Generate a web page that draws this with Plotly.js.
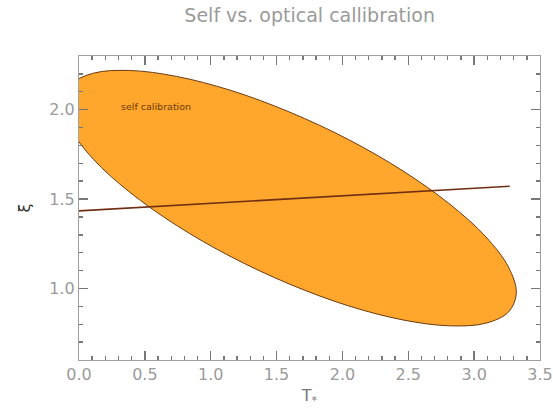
<!DOCTYPE html>
<html>
<head>
<meta charset="utf-8">
<script src="https://cdn.plot.ly/plotly-3.0.1.min.js"></script>
<style>
  html, body { margin: 0; padding: 0; background: #fff; }
  #chart { width: 553px; height: 416px; }
</style>
</head>
<body>
<div id="chart"></div>
<script>
// Self-calibration confidence region (outline points, T* vs xi)
var selfT  = [3.32, 3.261, 3.09, 2.816, 2.46, 2.045, 1.6, 1.155, 0.74, 0.384, 0.110, -0.061,
              -0.12, -0.061, 0.110, 0.384, 0.74, 1.155, 1.6, 2.045, 2.46, 2.816, 3.09, 3.261, 3.32];
var selfXi = [0.976, 1.119, 1.288, 1.471, 1.657, 1.833, 1.986, 2.107, 2.186, 2.219, 2.204, 2.141,
              2.034, 1.891, 1.722, 1.539, 1.353, 1.177, 1.024, 0.903, 0.824, 0.791, 0.806, 0.869, 0.976];

// Optical calibration relation
var opticalT  = [-0.09, 3.27];
var opticalXi = [1.43, 1.572];

// Axis ticks
var xTicks = [0.0, 0.5, 1.0, 1.5, 2.0, 2.5, 3.0, 3.5];
var xTickText = ['0.0', '0.5', '1.0', '1.5', '2.0', '2.5', '3.0', '3.5'];
var yTicks = [1.0, 1.5, 2.0];
var yTickText = ['1.0', '1.5', '2.0'];

var regionLabel = 'self calibration';

var axisGray = '#a0a0a0';
var textGray = '#9a9a9a';
var tickColor = '#777777';
var tickFont = { family: 'DejaVu Sans', size: 16, color: textGray };

var traces = [
  {
    x: selfT, y: selfXi,
    type: 'scatter', mode: 'lines',
    fill: 'toself', fillcolor: '#ffa62c',
    line: { color: '#6b3a10', width: 1, shape: 'spline', smoothing: 1 },
    hoverinfo: 'skip', showlegend: false
  },
  {
    x: opticalT, y: opticalXi,
    type: 'scatter', mode: 'lines',
    line: { color: '#6e2f14', width: 1.6 },
    hoverinfo: 'skip', showlegend: false
  }
];

function axisStyle(vals, text, range) {
  return {
    range: range,
    tickmode: 'array', tickvals: vals, ticktext: text,
    tickfont: tickFont,
    ticks: 'inside', ticklen: 9, tickcolor: tickColor, tickwidth: 1.4,
    minor: { tickmode: 'linear', tick0: 0, dtick: 0.1, ticks: 'inside',
             ticklen: 4, tickcolor: tickColor, tickwidth: 1.4 },
    showline: true, linecolor: axisGray, linewidth: 1, mirror: 'allticks',
    showgrid: false, zeroline: false
  };
}

var xaxis = axisStyle(xTicks, xTickText, [0, 3.5]);
xaxis.title = { text: 'T<sub>*</sub>', font: { family: 'DejaVu Sans', size: 16, color: '#777' }, standoff: 6 };
var yaxis = axisStyle(yTicks, yTickText, [0.6, 2.3]);
yaxis.title = { text: 'ξ', font: { family: 'DejaVu Sans', size: 16, color: '#333' }, standoff: 14 };

var layout = {
  width: 553, height: 416,
  margin: { l: 79, r: 13, t: 56, b: 56 },
  paper_bgcolor: '#ffffff', plot_bgcolor: '#ffffff',
  title: {
    text: 'Self vs. optical callibration',
    font: { family: 'DejaVu Sans', size: 19, color: textGray },
    x: 0.56, xanchor: 'center', y: 0.978, yanchor: 'top'
  },
  xaxis: xaxis,
  yaxis: yaxis,
  annotations: [
    {
      x: 0.30, y: 2.017, xref: 'x', yref: 'y',
      text: regionLabel, showarrow: false,
      xanchor: 'left', yanchor: 'middle',
      font: { family: 'DejaVu Sans', size: 9.5, color: '#6b3a10' }
    }
  ]
};

Plotly.newPlot('chart', traces, layout, { displayModeBar: false, staticPlot: true });
</script>
</body>
</html>
